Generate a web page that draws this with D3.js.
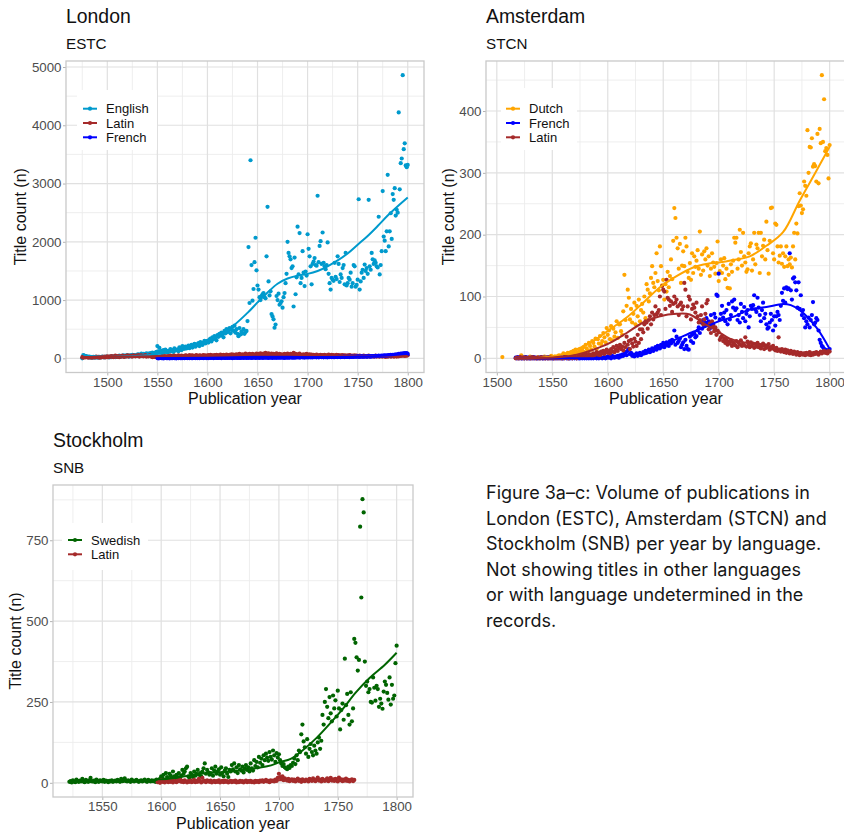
<!DOCTYPE html>
<html><head><meta charset="utf-8">
<script src="https://cdn.jsdelivr.net/npm/d3@7"></script>
<style>body{margin:0;background:#fff}svg{display:block}</style>
</head><body><svg id="c" width="844" height="835"></svg>
<script>
// ---------------- DATA ----------------
// London (ESTC)
const londonEnglishStart = 1475;
const londonEnglish = [
0,55,45,40,30,25,20,15,20,10,
15,20,10,25,15,20,10,25,15,20,
30,20,15,25,30,20,25,15,30,20,
35,25,30,20,40,30,25,45,35,30,
40,50,30,45,35,55,40,30,50,45,
60,40,55,50,45,65,70,50,60,80,
55,75,60,70,85,65,80,70,90,75,
100,80,95,85,110,210,120,180,100,130,
90,140,110,150,120,100,130,115,160,125,
140,110,170,135,150,145,120,190,160,140,
210,180,165,200,170,190,220,175,205,230,
185,215,250,200,240,225,260,210,280,245,
230,270,300,255,290,300,270,320,340,290,
360,330,380,350,310,400,370,420,390,440,
410,360,470,430,500,450,480,520,430,490,
540,470,560,440,500,420,380,520,410,460,
430,500,420,450,470,640,1910,950,3400,1600,
990,1190,1650,2070,1510,1250,1180,1050,1000,1070,
1100,1120,1050,1030,1750,2600,1320,1080,1150,760,
720,670,525,580,1070,1000,1110,920,950,980,
870,1050,1120,1290,1450,2000,1810,1750,1700,1550,
1580,890,1730,1100,1390,2260,1440,2150,1290,1380,
1840,1470,1240,1490,1420,2130,1880,1750,1580,1270,
1620,1660,1720,1600,1590,2790,1650,1930,2010,1620,
2160,1640,1580,1530,1600,1990,1450,1290,1180,1380,
1350,1330,1640,1400,1360,1750,1620,1310,1440,1380,
1550,1600,1270,1810,1250,1290,1380,1350,1470,1230,
1290,1600,1580,1230,1260,1350,2730,1180,1320,1470,
1520,1380,1610,1500,1550,1450,2720,1580,1520,1810,
1700,1620,1680,1640,1580,1560,2430,1440,1600,1840,
2870,2090,2020,1840,2180,3150,1920,2180,2490,2050,
2820,2720,2920,2450,2550,2500,4220,2900,3350,3430,
4860,3590,3690,3310,3280,3320];
const londonLatinStart = 1475;
const londonLatin = [
20,10,25,15,30,20,10,25,15,20,
10,25,20,15,30,20,25,10,20,15,
25,20,30,15,25,35,20,30,25,40,
30,20,35,45,25,30,40,20,35,30,
45,30,25,40,35,50,30,45,40,35,
30,50,40,35,45,40,55,30,45,50,
40,35,45,55,30,40,35,50,45,30,
20,35,25,30,20,15,25,30,20,35,
30,25,40,30,35,25,40,30,45,35,
40,30,45,35,25,40,50,35,30,45,
35,40,30,50,45,35,40,55,30,45,
50,40,35,45,55,40,30,50,45,35,
45,55,40,50,35,45,55,40,60,45,
50,40,55,45,60,50,40,55,65,45,
55,60,45,50,65,55,45,60,50,70,
55,65,50,60,70,55,65,75,50,60,
70,55,65,80,60,70,55,75,65,60,
75,65,55,70,80,60,75,65,85,70,
60,80,70,95,65,75,85,60,70,80,
65,75,60,70,85,55,65,75,60,70,
55,65,75,60,70,80,65,55,75,60,
70,95,65,75,55,70,60,80,65,55,
60,70,55,65,75,50,60,70,55,65,
50,60,45,55,65,50,40,55,60,45,
55,45,60,50,40,55,65,45,50,60,
45,55,40,50,60,45,55,40,50,45,
55,40,50,45,35,50,40,55,45,35,
45,40,50,35,45,40,30,45,35,40,
30,45,35,40,30,35,45,30,40,35,
40,30,35,45,30,40,35,30,40,35,
30,40,35,25,40,30,35,40,30,35,
40,30,35,45,30,40,35,45,40,50,
45,55,40,50,45,55];
const londonFrenchStart = 1550;
const londonFrench = [
5,0,3,8,2,5,0,4,6,2,
3,7,1,5,4,2,8,3,5,1,
6,3,8,2,5,4,7,3,6,9,
4,7,2,8,5,3,9,6,4,8,
5,10,3,7,6,9,4,8,11,5,
8,4,10,6,9,12,5,8,10,7,
9,6,12,8,5,10,14,7,9,11,
6,10,8,13,9,5,11,8,12,10,
7,12,9,6,14,10,8,13,11,9,
12,8,15,10,7,13,11,16,9,12,
10,14,8,12,15,9,13,11,16,10,
14,9,12,17,11,8,15,13,10,14,
12,16,10,14,18,11,13,9,15,12,
17,11,14,20,13,16,12,18,14,19,
15,21,13,17,24,16,19,14,22,18,
20,16,23,18,21,15,25,19,22,17,
24,18,21,26,19,23,17,25,20,22,
18,26,21,24,19,27,22,20,25,23,
21,28,24,19,26,23,30,22,27,25,
24,29,22,31,26,28,23,32,27,30,
28,33,26,30,35,29,32,27,36,31,
30,37,33,29,38,35,40,32,42,36,
40,45,38,43,48,41,46,52,44,50,
47,55,50,58,52,60,56,65,58,70,
62,75,68,80,72,85,78,90,82,88,
75];
const londonEnglishSmooth = [[1476,60],[1490,30],[1500,25],[1520,35],[1540,55],[1560,100],[1580,170],[1600,300],[1620,480],[1640,780],[1650,960],[1660,1130],[1670,1280],[1680,1370],[1690,1420],[1700,1450],[1710,1500],[1720,1580],[1730,1680],[1740,1800],[1750,1950],[1760,2100],[1770,2270],[1780,2450],[1790,2610],[1800,2760]];
const londonLatinSmooth = [[1475,25],[1500,25],[1550,35],[1600,45],[1650,62],[1680,62],[1720,48],[1760,38],[1800,42]];
const londonFrenchSmooth = [[1550,3],[1600,8],[1650,12],[1700,20],[1750,30],[1780,50],[1800,80]];
const londonXTicks = [1500,1550,1600,1650,1700,1750,1800];
const londonYTicks = [0,1000,2000,3000,4000,5000];

// Amsterdam (STCN)
const amsDutchStart = 1505;
const amsDutch = [
2,null,null,null,null,null,null,null,null,null,
null,null,null,null,null,null,null,5,3,null,
null,2,null,null,null,3,null,null,1,null,
null,null,2,null,null,1,null,null,3,null,
null,2,null,null,4,null,null,3,null,2,
null,5,null,4,null,8,6,null,5,9,
7,4,10,6,12,8,14,9,6,11,
15,8,13,18,10,22,16,12,25,20,
14,28,25,19,32,15,31,24,36,23,
28,41,34,26,49,38,45,31,52,29,
48,35,42,60,33,55,55,44,38,76,
135,62,85,111,98,63,80,58,72,90,
55,85,68,95,60,78,88,74,100,65,
120,111,92,105,130,149,122,115,138,170,
125,110,181,149,118,127,95,120,108,140,
115,133,160,128,190,243,227,195,178,145,
185,122,150,173,149,195,181,140,130,154,
127,170,138,165,148,158,175,145,205,135,
168,142,173,160,178,150,165,133,145,170,
155,148,137,154,189,125,141,160,138,150,
162,128,145,114,135,113,152,140,158,195,
187,195,145,160,208,172,150,203,165,155,
140,144,170,181,186,142,160,203,152,184,
178,203,138,203,165,182,192,160,221,175,
137,190,243,244,170,160,218,216,181,155,
166,181,153,170,148,165,181,149,160,152,
163,147,181,203,160,218,202,246,267,247,
235,241,286,279,263,369,300,342,341,356,
310,314,311,286,363,283,371,348,458,350,
419,335,340,329,291,345];
const amsFrenchStart = 1517;
const amsFrench = [
1,0,2,0,1,0,0,1,0,2,
0,1,0,0,1,0,2,0,1,0,
0,1,0,2,0,0,1,0,1,0,
2,0,1,0,0,1,0,2,0,1,
0,1,0,0,2,1,0,1,0,0,
1,0,2,0,1,0,1,0,0,2,
0,1,0,1,0,2,0,1,0,1,
0,2,1,0,1,0,2,1,0,1,
2,0,1,3,1,2,0,4,2,1,
3,2,4,1,5,3,6,4,8,10,
5,12,15,7,9,4,6,3,5,8,
4,6,9,5,7,10,8,12,9,11,
14,10,13,16,12,15,18,14,20,17,
16,22,19,25,18,21,26,23,20,28,
24,30,27,45,22,35,25,28,32,18,
22,26,15,30,20,15,14,35,28,38,
25,40,34,36,45,50,41,58,48,62,
52,58,65,55,60,48,70,52,55,72,
66,103,101,137,63,72,85,66,74,60,
78,55,88,63,70,92,82,95,78,81,
62,70,58,88,75,65,83,60,72,78,
50,68,85,80,86,102,79,75,98,82,
70,60,78,90,65,72,55,48,50,58,
72,62,45,68,53,68,75,70,62,85,
106,93,113,90,115,112,113,170,110,95,
129,131,123,110,82,123,80,102,70,78,
65,50,60,55,66,50,62,70,91,55,
58,65,62,45,30,25,20,18,15,14,
13,13,12,15];
const amsLatinStart = 1517;
const amsLatin = [
0,1,0,0,2,0,1,0,0,1,
0,0,1,0,0,2,0,1,0,0,
1,0,0,2,0,1,0,0,1,0,
0,2,0,1,0,0,1,0,2,0,
1,0,0,1,0,2,1,0,0,1,
2,0,1,3,1,0,2,4,3,2,
5,3,4,6,2,5,7,4,6,3,
8,5,7,10,6,9,5,11,8,12,
7,10,14,9,12,8,15,11,18,10,
14,20,12,17,22,15,19,13,25,18,
35,22,28,15,30,24,19,32,27,20,
38,25,47,31,47,42,55,60,58,48,
62,68,55,74,63,70,84,71,74,78,
100,70,117,111,108,80,127,98,95,85,
92,75,88,100,90,95,84,70,87,90,
79,84,122,111,68,84,100,95,63,80,
87,82,74,90,68,58,62,70,84,55,
63,72,89,94,47,56,41,60,52,44,
50,38,45,42,30,34,36,28,32,25,
30,22,27,24,29,20,26,23,21,28,
18,25,22,29,20,24,21,34,19,27,
22,18,26,20,24,17,23,19,25,18,
22,16,20,24,15,21,17,19,23,14,
18,16,20,15,13,17,12,34,14,11,
15,12,10,14,9,13,11,8,12,10,
7,11,9,6,10,8,5,9,7,6,
8,5,9,7,6,10,5,8,6,9,
7,10,8,6,9,11,8,10,12,9,
10,8,12,11];
const amsDutchSmooth = [[1517,0],[1540,1],[1557,6],[1570,13],[1587,28],[1602,47],[1617,66],[1632,90],[1647,115],[1662,133],[1677,147],[1690,153],[1700,155],[1713,159],[1728,165],[1743,182],[1758,204],[1773,255],[1788,303],[1800,342]];
const amsFrenchSmooth = [[1517,0],[1560,0],[1600,1],[1617,6],[1632,9],[1647,20],[1662,31],[1677,43],[1690,52],[1700,60],[1713,67],[1728,79],[1743,83],[1758,88],[1765,86],[1773,78],[1788,50],[1800,15]];
const amsLatinSmooth = [[1517,0],[1557,2],[1572,6],[1587,14],[1602,25],[1617,41],[1632,58],[1647,68],[1662,72],[1674,71],[1686,57],[1698,45],[1710,32],[1725,25],[1740,20],[1755,15],[1770,10],[1785,9],[1800,12]];
const amsXTicks = [1500,1550,1600,1650,1700,1750,1800];
const amsYTicks = [0,100,200,300,400];

// Stockholm (SNB)
const stoSwedishStart = 1522;
const stoSwedish = [
3,5,1,8,4,2,10,6,3,7,
5,12,4,2,9,6,3,8,15,5,
4,7,2,10,5,3,8,6,4,9,
3,7,5,2,6,4,8,3,5,7,
4,9,6,3,12,5,7,14,6,4,
8,5,3,10,6,4,7,9,5,3,
6,8,4,7,10,5,3,9,6,4,
8,5,7,3,10,6,9,12,20,15,
25,10,30,18,12,28,22,15,35,20,
12,25,18,30,15,22,40,28,35,45,
50,20,15,30,25,18,35,22,28,40,
25,30,20,35,45,60,28,40,32,25,
30,45,22,38,50,28,35,42,25,48,
30,20,38,45,28,18,40,35,55,42,
60,35,48,30,55,42,38,50,32,45,
55,40,48,35,60,45,38,70,52,65,
48,80,62,75,55,85,70,90,78,68,
95,80,72,100,85,65,92,78,88,70,
60,52,58,48,45,42,50,46,55,52,
62,75,58,85,70,100,95,150,180,128,
110,90,135,80,105,120,95,85,115,100,
90,125,140,105,130,210,180,250,290,235,
200,265,215,190,270,230,255,205,285,230,
165,225,245,195,384,240,275,210,180,280,
190,230,445,433,388,347,380,792,573,877,
836,375,300,313,280,290,250,248,326,294,
254,300,290,235,260,245,229,282,313,303,
278,257,326,242,303,260,270,370,424];
const stoLatinStart = 1597;
const stoLatin = [
2,5,0,8,3,6,1,4,7,2,
5,3,9,1,6,4,2,7,5,10,
3,6,2,8,4,1,5,3,7,2,
4,9,2,6,3,12,5,1,15,4,
6,2,8,5,3,7,1,4,6,2,
5,3,8,1,4,6,2,7,3,5,
1,4,6,2,5,3,7,1,4,2,
6,3,5,1,4,7,2,5,3,6,
2,4,1,6,3,5,2,7,4,8,
3,5,9,4,6,2,8,5,7,4,
10,6,15,28,18,12,20,8,14,10,
7,12,5,9,11,6,10,4,8,13,
6,9,3,11,7,5,10,8,4,12,
9,6,14,8,5,11,16,7,10,4,
12,8,6,10,14,5,9,15,7,11,
6,12,9,4,16,8,11,5,10,7,
13,6,9,4,8,11,5,9];
const stoSwedishSmooth = [[1522,2],[1560,3],[1600,10],[1620,20],[1633,28],[1661,36],[1690,51],[1701,64],[1710,74],[1720,100],[1732,139],[1745,190],[1755,232],[1765,278],[1777,324],[1790,365],[1800,402]];
const stoLatinSmooth = [[1597,5],[1650,4],[1700,8],[1764,7]];
const stoXTicks = [1550,1600,1650,1700,1750,1800];
const stoYTicks = [0,250,500,750];

const caption = [
"Figure 3a\u2013c: Volume of publications in",
"London (ESTC), Amsterdam (STCN) and",
"Stockholm (SNB) per year by language.",
"Not showing titles in other languages",
"or with language undetermined in the",
"records."];

// ---------------- DRAWING ----------------
const FONT = "'Liberation Sans', Arial, Helvetica, sans-serif";
const svg = d3.select("#c");
svg.append("rect").attr("width",844).attr("height",835).attr("fill","#fff");

function toPts(start, arr){
  return arr.map((v,i)=>({year:start+i, v:v})).filter(d=>d.v!==null);
}
function range(a,b,s){const r=[];for(let v=a;v<=b+1e-9;v+=s)r.push(v);return r;}

let clipN = 0;
function drawPanel(p){
  const x = d3.scaleLinear().domain(p.xDomain).range([p.left,p.right]);
  const y = d3.scaleLinear().domain(p.yDomain).range([p.bottom,p.top]);
  const g = svg.append("g");
  const cid = "clip"+(clipN++);
  svg.append("clipPath").attr("id",cid).append("rect")
    .attr("x",p.left).attr("y",p.top).attr("width",p.right-p.left).attr("height",p.bottom-p.top);

  // minor grid
  g.append("g").selectAll("line").data(p.xMinor).join("line")
    .attr("x1",d=>x(d)).attr("x2",d=>x(d)).attr("y1",p.top).attr("y2",p.bottom)
    .attr("stroke","#ececec").attr("stroke-width",0.9);
  g.append("g").selectAll("line").data(p.yMinor).join("line")
    .attr("y1",d=>y(d)).attr("y2",d=>y(d)).attr("x1",p.left).attr("x2",p.right)
    .attr("stroke","#ececec").attr("stroke-width",0.9);
  // major grid
  g.append("g").selectAll("line").data(p.xTicks).join("line")
    .attr("x1",d=>x(d)).attr("x2",d=>x(d)).attr("y1",p.top).attr("y2",p.bottom)
    .attr("stroke","#e0e0e0").attr("stroke-width",1.2);
  g.append("g").selectAll("line").data(p.yTicks).join("line")
    .attr("y1",d=>y(d)).attr("y2",d=>y(d)).attr("x1",p.left).attr("x2",p.right)
    .attr("stroke","#e0e0e0").attr("stroke-width",1.2);

  const plot = g.append("g").attr("clip-path","url(#"+cid+")");
  // points
  p.series.forEach(s=>{
    plot.append("g").selectAll("circle").data(toPts(s.start,s.values)).join("circle")
      .attr("cx",d=>x(d.year)).attr("cy",d=>y(d.v)).attr("r",2.1).attr("fill",s.color);
  });
  // smooth lines
  const line = d3.line().x(d=>x(d[0])).y(d=>y(d[1])).curve(d3.curveCatmullRom.alpha(0.5));
  p.series.forEach(s=>{
    plot.append("path").attr("d",line(s.smooth)).attr("fill","none")
      .attr("stroke",s.color).attr("stroke-width",2);
  });

  // legend
  const lg = g.append("g");
  lg.append("rect").attr("x",p.legend.x).attr("y",p.legend.y).attr("width",p.legend.w).attr("height",p.legend.h).attr("fill","#fff");
  p.series.forEach((s,i)=>{
    const cy = p.legend.firstY + i*14.3;
    lg.append("line").attr("x1",p.legend.keyX).attr("x2",p.legend.keyX+14).attr("y1",cy).attr("y2",cy)
      .attr("stroke",s.color).attr("stroke-width",2);
    lg.append("circle").attr("cx",p.legend.keyX+7).attr("cy",cy).attr("r",2.1).attr("fill",s.color);
    lg.append("text").attr("x",p.legend.keyX+23).attr("y",cy).attr("dy","0.35em")
      .attr("font-family",FONT).attr("font-size",13).attr("fill","#111").text(s.name);
  });

  // axes
  const ax = g.append("g").attr("transform","translate(0,"+p.bottom+")")
    .call(d3.axisBottom(x).tickValues(p.xTicks).tickFormat(d3.format("d")).tickSize(3).tickPadding(2));
  const ay = g.append("g").attr("transform","translate("+p.left+",0)")
    .call(d3.axisLeft(y).tickValues(p.yTicks).tickFormat(d3.format("d")).tickSize(3).tickPadding(1.5));
  [ax,ay].forEach(a=>{
    a.select(".domain").remove();
    a.selectAll(".tick line").attr("stroke","#b3b3b3");
    a.selectAll(".tick text").attr("font-family",FONT).attr("font-size",13.3).attr("fill","#4d4d4d");
  });

  // border
  g.append("rect").attr("x",p.left).attr("y",p.top).attr("width",p.right-p.left).attr("height",p.bottom-p.top)
    .attr("fill","none").attr("stroke","#c9c9c9").attr("stroke-width",1.3);

  // titles
  g.append("text").attr("x",p.left).attr("y",p.top-37.7).attr("font-family",FONT).attr("font-size",19.4).attr("fill","#111").text(p.title);
  g.append("text").attr("x",p.left).attr("y",p.top-12.5).attr("font-family",FONT).attr("font-size",15.2).attr("fill","#111").text(p.subtitle);
  g.append("text").attr("x",(p.left+p.right)/2).attr("y",p.bottom+31.5).attr("text-anchor","middle")
    .attr("font-family",FONT).attr("font-size",16).attr("fill","#111").text("Publication year");
  g.append("text").attr("transform","translate("+p.yTitleX+","+((p.top+p.bottom)/2)+") rotate(-90)")
    .attr("text-anchor","middle").attr("dy","0.35em")
    .attr("font-family",FONT).attr("font-size",16).attr("fill","#111").text("Title count (n)");
}

drawPanel({
  left:66,right:424,top:61,bottom:372.5,
  xDomain:[1458.75,1816.25], yDomain:[-243,5103],
  xTicks:londonXTicks, xMinor:range(1475,1775,50),
  yTicks:londonYTicks, yMinor:range(500,4500,1000),
  title:"London", subtitle:"ESTC", yTitleX:20,
  legend:{x:77,y:90,w:80,h:60,firstY:108.7,keyX:83},
  series:[
    {name:"English",color:"#009ACD",start:londonEnglishStart,values:londonEnglish,smooth:londonEnglishSmooth},
    {name:"Latin",color:"#A52A2A",start:londonLatinStart,values:londonLatin,smooth:londonLatinSmooth},
    {name:"French",color:"#0000FF",start:londonFrenchStart,values:londonFrench,smooth:londonFrenchSmooth}
  ]
});
drawPanel({
  left:486,right:846,top:61,bottom:372.5,
  xDomain:[1490.25,1814.75], yDomain:[-22.9,480.9],
  xTicks:amsXTicks, xMinor:range(1525,1775,50),
  yTicks:amsYTicks, yMinor:range(50,450,100),
  title:"Amsterdam", subtitle:"STCN", yTitleX:448,
  legend:{x:501,y:88,w:76,h:62,firstY:108.7,keyX:506},
  series:[
    {name:"Dutch",color:"#FFA500",start:amsDutchStart,values:amsDutch,smooth:amsDutchSmooth},
    {name:"French",color:"#0000FF",start:amsFrenchStart,values:amsFrench,smooth:amsFrenchSmooth},
    {name:"Latin",color:"#A52A2A",start:amsLatinStart,values:amsLatin,smooth:amsLatinSmooth}
  ]
});
drawPanel({
  left:53,right:413,top:485,bottom:797,
  xDomain:[1508.1,1813.9], yDomain:[-43.85,920.85],
  xTicks:stoXTicks, xMinor:range(1525,1775,50),
  yTicks:stoYTicks, yMinor:range(125,875,250),
  title:"Stockholm", subtitle:"SNB", yTitleX:15,
  legend:{x:62,y:523,w:86,h:47,firstY:540,keyX:68},
  series:[
    {name:"Swedish",color:"#006400",start:stoSwedishStart,values:stoSwedish,smooth:stoSwedishSmooth},
    {name:"Latin",color:"#A52A2A",start:stoLatinStart,values:stoLatin,smooth:stoLatinSmooth}
  ]
});

// caption
const cap = svg.append("g");
const capTexts = cap.selectAll("text").data(caption).join("text")
  .attr("x",486).attr("y",(d,i)=>499+i*25.5)
  .attr("font-family","Inter, 'Open Sans', sans-serif").attr("font-size",16).attr("fill","#161616").text(d=>d);
const w0 = capTexts.nodes()[0].getComputedTextLength();
const fs = 16*324/w0;
capTexts.attr("font-size",fs);
</script>
</body></html>
